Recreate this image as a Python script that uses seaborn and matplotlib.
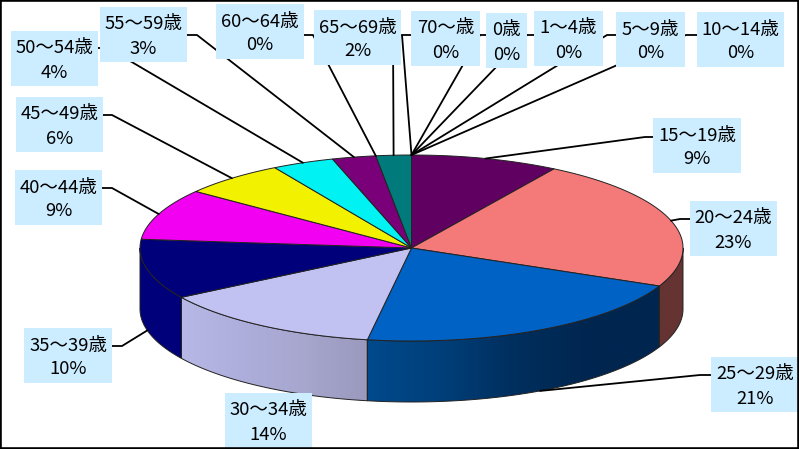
import numpy as np
import matplotlib
matplotlib.use("Agg")
import matplotlib.pyplot as plt
import seaborn as sns
from matplotlib.colors import LinearSegmentedColormap
from matplotlib.patches import Polygon, Rectangle

sns.set_theme(style="white")
plt.rcParams['font.family'] = ['Noto Sans CJK JP', 'DejaVu Sans']

# Data, clockwise from the top of the pie
ages = ['0歳', '1～4歳', '5～9歳', '10～14歳', '15～19歳', '20～24歳', '25～29歳', '30～34歳',
        '35～39歳', '40～44歳', '45～49歳', '50～54歳', '55～59歳', '60～64歳', '65～69歳', '70～歳']
shares = [0.0, 0.0, 0.0, 0.0, 8.8, 22.9, 20.9, 13.5, 10.4, 8.9, 6.2, 3.7, 2.6, 0.0, 2.1, 0.0]
percent_labels = ['0%', '0%', '0%', '0%', '9%', '23%', '21%', '14%',
                  '10%', '9%', '6%', '4%', '3%', '0%', '2%', '0%']
top_colors = ['#CCCCFF', '#993366', '#FFFFCC', '#CCFFFF', '#600060', '#F47A7A', '#0062C4', '#C2C2F2',
              '#00007A', '#F200F2', '#F2F200', '#00F2F2', '#7A007A', '#7A7A7A', '#007A7A', '#FFFFFF']

# Side wall shading, left to right
wall_colors = {
    '20～24歳': ['#663333', '#663333'],
    '25～29歳': ['#004A8C', '#003F7A', '#002F5E', '#002650', '#002650'],
    '30～34歳': ['#B8B8E6', '#AEAEDC', '#A6A6CE', '#9A9ABE'],
    '35～39歳': ['#00007A', '#00007A'],
}

# Layout in pixels of the 799x449 picture
cx, cy, rx, ry, depth = 411.5, 248, 271.5, 93, 61
boxes = {
    '0歳': (486, 13, 527, 68), '1～4歳': (534, 11, 603, 66), '5～9歳': (616, 12, 685, 67),
    '10～14歳': (697, 12, 784, 67), '15～19歳': (653, 118, 741, 173), '20～24歳': (690, 201, 777, 256),
    '25～29歳': (711, 357, 799, 412), '30～34歳': (225, 393, 312, 449), '35～39歳': (24, 328, 112, 383),
    '40～44歳': (15, 170, 102, 225), '45～49歳': (16, 97, 103, 152), '50～54歳': (11, 31, 98, 86),
    '55～59歳': (100, 7, 187, 62), '60～64歳': (216, 4, 304, 59), '65～69歳': (314, 10, 401, 65),
    '70～歳': (411, 11, 480, 66),
}
leader_starts = {
    '0歳': [(486, 35), (480, 35)], '1～4歳': [(534, 35), (527, 35)], '5～9歳': [(616, 35), (607, 35)],
    '10～14歳': [(697, 35), (686, 35)], '15～19歳': [(653, 137), (645, 137)],
    '20～24歳': [(690, 219), (680, 219)], '25～29歳': [(711, 375), (700, 375)],
    '35～39歳': [(112, 346), (122, 346)], '40～44歳': [(102, 188), (112, 188)],
    '45～49歳': [(103, 115), (112, 115)], '50～54歳': [(98, 48), (108, 48)],
    '55～59歳': [(187, 35), (197, 35)], '60～64歳': [(304, 35), (313, 35)],
    '65～69歳': [(401, 35), (393, 35)], '70～歳': [(411, 35), (402, 35)],
}


def rim(t):
    # t is in degrees, clockwise from the top of the ellipse
    t = np.radians(t)
    return cx + rx * np.sin(t), cy - ry * np.cos(t)


fig = plt.figure(figsize=(7.99, 4.49), dpi=100)
ax = fig.add_axes([0, 0, 1, 1])
ax.set_xlim(0, 799)
ax.set_ylim(449, 0)
ax.set_xticks([])
ax.set_yticks([])
for side in ['left', 'top', 'bottom', 'right']:
    ax.spines[side].set_visible(True)
    ax.spines[side].set_color('black')
    ax.spines[side].set_linewidth(2.6)
    ax.spines[side].set_zorder(10)

total = sum(shares)
edges = np.concatenate([[0], np.cumsum(shares)]) / total * 360

# Side walls for the part of the rim facing the viewer
for i, age in enumerate(ages):
    if age not in wall_colors:
        continue
    t0, t1 = max(edges[i], 90), min(edges[i + 1], 270)
    t = np.linspace(t0, t1, 80)
    x, y = rim(t)
    verts = np.vstack([np.column_stack([x, y]), np.column_stack([x, y + depth])[::-1]])
    wall = Polygon(verts, closed=True, facecolor='none', edgecolor='#222222', linewidth=0.7, zorder=3)
    ax.add_patch(wall)
    cmap = LinearSegmentedColormap.from_list(age, wall_colors[age])
    img = ax.imshow(np.linspace(0, 1, 256)[None, :], cmap=cmap, aspect='auto', zorder=2,
                    extent=(x.min(), x.max(), y.max() + depth, y.min()))
    img.set_clip_path(wall)
ax.set_xlim(0, 799)
ax.set_ylim(449, 0)

# Top face
for i, age in enumerate(ages):
    if shares[i] == 0:
        continue
    x, y = rim(np.linspace(edges[i], edges[i + 1], 120))
    verts = np.vstack([[cx, cy], np.column_stack([x, y])])
    ax.add_patch(Polygon(verts, closed=True, facecolor=top_colors[i], edgecolor='#222222',
                         linewidth=0.7, zorder=4))

# Leader lines go to the middle of each slice on the rim
for i, age in enumerate(ages):
    if age not in leader_starts:
        continue
    mid = (edges[i] + edges[i + 1]) / 2
    ax_x, ax_y = rim(mid)
    if 90 < mid < 270:
        ax_y += depth
    pts = leader_starts[age] + [(ax_x, ax_y)]
    ax.plot([p[0] for p in pts], [p[1] for p in pts], color='black', linewidth=1.3, zorder=5)

# Label boxes
for i, age in enumerate(ages):
    x0, y0, x1, y1 = boxes[age]
    ax.add_patch(Rectangle((x0, y0), x1 - x0, y1 - y0, facecolor='#CCECFF', edgecolor='none', zorder=6))
    xc = (x0 + x1) / 2
    ax.text(xc, y0 + 17.5, age, ha='center', va='center', fontsize=13.3, color='black', zorder=7)
    ax.text(xc, y0 + 41.5, percent_labels[i], ha='center', va='center', fontsize=13.3, color='black', zorder=7)

fig.savefig('out.png', dpi=100)
plt.close(fig)
